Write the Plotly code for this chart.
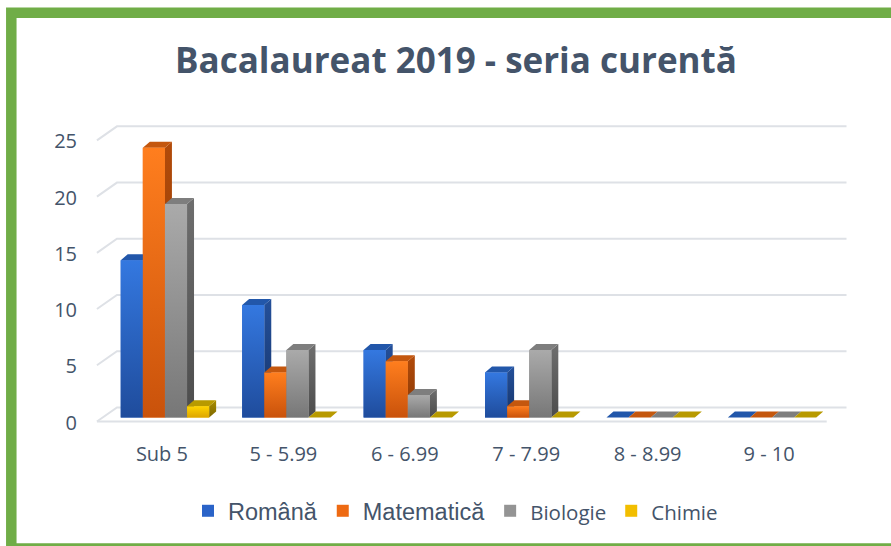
import plotly.graph_objects as go

# ---------------- data ----------------
categories = ["Sub 5", "5 - 5.99", "6 - 6.99", "7 - 7.99", "8 - 8.99", "9 - 10"]
romana = [14, 10, 6, 4, 0, 0]
matematica = [24, 4, 5, 1, 0, 0]
biologie = [19, 6, 2, 6, 0, 0]
chimie = [1, 0, 0, 0, 0, 0]
series_names = ["Română", "Matematică", "Biologie", "Chimie"]
y_ticks = [0, 5, 10, 15, 20, 25]
title_text = "Bacalaureat 2019 - seria curentă"

series_values = [romana, matematica, biologie, chimie]

# ---------------- styles ----------------
W, H = 891, 546
ML, MR, MT, MB = 86, 40, 114, 106
plot_w = W - ML - MR
plot_h = H - MT - MB
X_RANGE = [-0.65, 5.65]
Y_RANGE = [-2, 27]

TEXT = "#44546A"
GRID = "#DEE1E6"
GREEN = "#70AD47"

mid = ["#2A63C8", "#EE6A12", "#949494", "#F2BE00"]
front_top = ["#3478E0", "#FF7E1E", "#AAAAAA", "#FFD400"]
front_bot = ["#1F4C9C", "#C9520B", "#777777", "#DDA500"]
side_top = ["#24509A", "#B24B0A", "#6E6E6E", "#A88C00"]
side_bot = ["#16346A", "#873705", "#4C4C4C", "#7E6800"]
cap = ["#2257AA", "#C4570E", "#7E7E7E", "#B89A00"]

legend_labels = [
    "Română",
    "Matematică",
    "<span style=\"font-family:Open Sans;font-size:20.5px\">Biologie</span>",
    "<span style=\"font-family:Open Sans;font-size:20.5px\">Chimie</span>",
]

n_series = len(series_values)
bargap = 0.272
bar_w = (1 - bargap) / n_series
dx = 7 / (plot_w / (X_RANGE[1] - X_RANGE[0]))
dy = 6 / (plot_h / (Y_RANGE[1] - Y_RANGE[0]))

xs = list(range(len(categories)))

fig = go.Figure()

# real bars (front faces base + legend)
for j, vals in enumerate(series_values):
    fig.add_trace(go.Bar(
        x=xs, y=vals, name=legend_labels[j],
        marker=dict(color=mid[j], line=dict(width=0)),
        hoverinfo="skip",
    ))

# 3D faces computed from the same values
for j, vals in enumerate(series_values):
    off = -(1 - bargap) / 2 + bar_w * j
    # side faces
    for i, v in zip(xs, vals):
        if v <= 0:
            continue
        xr = i + off + bar_w
        fig.add_trace(go.Scatter(
            x=[xr, xr, xr + dx, xr + dx, xr], y=[0, v, v + dy, dy, 0],
            mode="lines", fill="toself", line=dict(width=0),
            fillgradient=dict(type="vertical",
                              colorscale=[[0, side_bot[j]], [1, side_top[j]]]),
            showlegend=False, hoverinfo="skip"))
    # top faces
    tx, ty = [], []
    for i, v in zip(xs, vals):
        xl = i + off
        xr = xl + bar_w
        tx += [xl, xr, xr + dx, xl + dx, xl, None]
        ty += [v, v, v + dy, v + dy, v, None]
    fig.add_trace(go.Scatter(
        x=tx, y=ty, mode="lines", fill="toself", line=dict(width=0),
        fillcolor=cap[j], showlegend=False, hoverinfo="skip"))
    # gradient front faces
    for i, v in zip(xs, vals):
        if v <= 0:
            continue
        xl = i + off
        xr = xl + bar_w
        fig.add_trace(go.Scatter(
            x=[xl, xr, xr, xl, xl], y=[0, 0, v, v, 0],
            mode="lines", fill="toself", line=dict(width=0),
            fillgradient=dict(type="vertical",
                              colorscale=[[0, front_bot[j]], [1, front_top[j]]]),
            showlegend=False, hoverinfo="skip"))

# 3D grid (side wall + back wall) from tick values
x_front_left = -0.56
x_back_left = -0.395
x_back_right = 5.613
x_front_right = 5.45
front_off = -0.35
back_off = 0.9
shapes = []
for v in y_ticks:
    shapes.append(dict(
        type="path", xref="x", yref="y", layer="below",
        path=f"M {x_front_left},{v + front_off} L {x_back_left},{v + back_off} L {x_back_right},{v + back_off}",
        line=dict(color=GRID, width=2)))
shapes.append(dict(
    type="line", xref="x", yref="y", layer="below",
    x0=x_front_left, x1=x_front_right, y0=front_off, y1=front_off,
    line=dict(color=GRID, width=2)))

# green frame
def px_x(p):
    return (p - ML) / plot_w

def px_y(p):
    return (H - MB - p) / plot_h

shapes.append(dict(
    type="rect", xref="paper", yref="paper",
    x0=px_x(11.3), x1=px_x(905), y0=px_y(548.5), y1=px_y(12.8),
    line=dict(color=GREEN, width=10.5), fillcolor="rgba(0,0,0,0)"))

fig.update_layout(
    width=W, height=H, autosize=False,
    margin=dict(l=ML, r=MR, t=MT, b=MB, pad=0),
    paper_bgcolor="white", plot_bgcolor="white",
    barmode="group", bargap=bargap, bargroupgap=0,
    title=dict(text=f"<b>{title_text}</b>", x=456 / W, xanchor="center",
               y=1 - 60.75 / H, yanchor="middle", yref="container",
               font=dict(family="Open Sans", size=35, color=TEXT)),
    xaxis=dict(range=X_RANGE, tickvals=xs, ticktext=categories,
               showgrid=False, zeroline=False, showline=False, ticks="",
               tickfont=dict(family="Open Sans", size=20, color=TEXT),
               ticklabelshift=-3, fixedrange=True),
    yaxis=dict(range=Y_RANGE, tickvals=y_ticks, showgrid=False,
               zeroline=False, showline=False, ticks="",
               tickfont=dict(family="Open Sans", size=20, color=TEXT),
               ticklabelshift=5, ticklabelstandoff=8, fixedrange=True),
    legend=dict(orientation="h", x=px_x(188), xanchor="left",
                y=px_y(511), yanchor="middle",
                font=dict(family="Liberation Sans", size=23.5, color=TEXT),
                bgcolor="rgba(0,0,0,0)"),
    shapes=shapes,
    showlegend=True,
)

fig.write_html(
    "out.html",
    config={"displayModeBar": False},
    post_script="document.body.style.margin='0';document.body.style.overflow='hidden';",
)
